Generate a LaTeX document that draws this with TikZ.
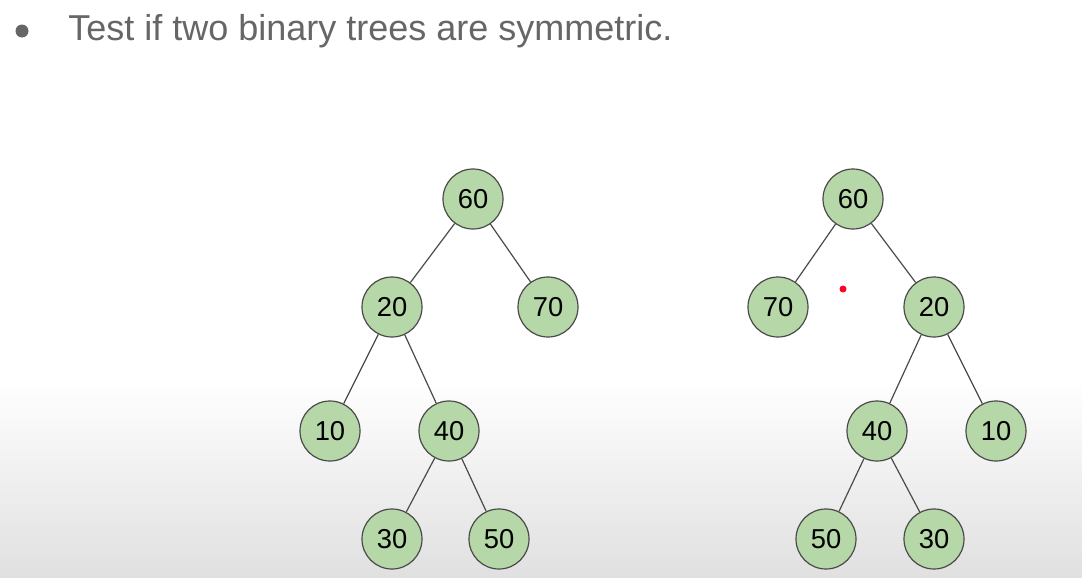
\documentclass[tikz,border=0pt]{standalone}
\usepackage{fontspec}
\setmainfont{Liberation Sans}
\usetikzlibrary{shadings}
\definecolor{nodefill}{HTML}{B6D7A8}
\definecolor{nodeline}{HTML}{4A4A4A}
\definecolor{titlegray}{HTML}{666666}
\definecolor{bggray}{HTML}{E0E0E0}
\tikzset{
  treenode/.style={circle, draw=nodeline, line width=0.9pt, fill=nodefill,
    minimum size=45pt, inner sep=0pt, font=\fontsize{20.5}{24}\selectfont},
  edge/.style={draw=nodeline, line width=0.9pt}
}
\begin{document}
\begin{tikzpicture}[x=0.75pt,y=-0.75pt]
\useasboundingbox (0,0) rectangle (1082,578);
\fill[white] (0,0) rectangle (1082,380);
\shade[top color=white, bottom color=bggray] (0,379) rectangle (1082,578);
% title
\fill[titlegray] (22,31) circle (6.5);
\node[anchor=base west, text=titlegray, inner sep=0pt, font=\fontsize{27}{32}\selectfont] (title) at (68,40) {Test if two binary trees are symmetric.};
% left tree
\node[treenode] (a60) at (473,199) {60};
\node[treenode] (a20) at (392,307) {20};
\node[treenode] (a70) at (548,307) {70};
\node[treenode] (a10) at (330,431) {10};
\node[treenode] (a40) at (449,431) {40};
\node[treenode] (a30) at (392,539) {30};
\node[treenode] (a50) at (499,539) {50};
\draw[edge] (a60) -- (a20);
\draw[edge] (a60) -- (a70);
\draw[edge] (a20) -- (a10);
\draw[edge] (a20) -- (a40);
\draw[edge] (a40) -- (a30);
\draw[edge] (a40) -- (a50);
% right tree
\node[treenode] (b60) at (853,199) {60};
\node[treenode] (b70) at (778,307) {70};
\node[treenode] (b20) at (934,307) {20};
\node[treenode] (b40) at (877,431) {40};
\node[treenode] (b10) at (996,431) {10};
\node[treenode] (b50) at (826,539) {50};
\node[treenode] (b30) at (934,539) {30};
\draw[edge] (b60) -- (b70);
\draw[edge] (b60) -- (b20);
\draw[edge] (b20) -- (b40);
\draw[edge] (b20) -- (b10);
\draw[edge] (b40) -- (b50);
\draw[edge] (b40) -- (b30);
% pointer dot
\fill[red!85!magenta] (843,289) circle (3.5);
\end{tikzpicture}
\end{document}
